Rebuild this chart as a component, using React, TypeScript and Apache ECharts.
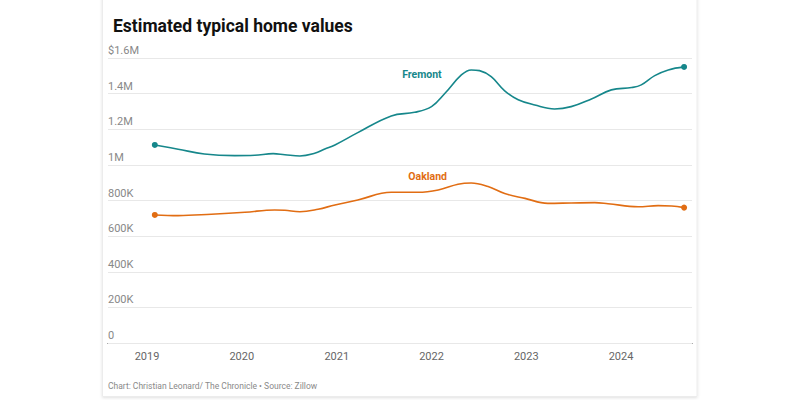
import React, { useEffect, useRef } from "react";
import * as echarts from "echarts";

const TITLE = "Estimated typical home values";
const SOURCE = "Chart: Christian Leonard/ The Chronicle • Source: Zillow";

const fremontDates = [
  "2019-01-31", "2019-05-01", "2019-08-10", "2019-12-05", "2020-02-20", "2020-05-01",
  "2020-06-15", "2020-08-12", "2020-10-08", "2020-11-16", "2020-12-25", "2021-03-23",
  "2021-07-30", "2021-10-28", "2022-01-01", "2022-02-22", "2022-04-26", "2022-06-03",
  "2022-07-05", "2022-08-19", "2022-10-10", "2022-12-01", "2023-02-03", "2023-04-20",
  "2023-06-23", "2023-09-09", "2023-11-25", "2024-02-11", "2024-03-19", "2024-05-10",
  "2024-07-01", "2024-08-31",
];
const fremontValues = [
  1112000, 1088000, 1061000, 1052000, 1054000, 1063000,
  1057000, 1050000, 1065000, 1089000, 1112000, 1181000,
  1275000, 1295000, 1327000, 1402000, 1505000, 1533000,
  1529000, 1495000, 1416000, 1366000, 1336000, 1314000,
  1327000, 1370000, 1421000, 1434000, 1449000, 1501000,
  1533000, 1550000,
];

const oaklandDates = [
  "2019-01-31", "2019-05-01", "2019-09-06", "2020-01-13", "2020-05-07", "2020-06-15",
  "2020-08-12", "2020-10-21", "2020-12-25", "2021-03-23", "2021-07-30", "2021-11-10",
  "2022-01-27", "2022-04-13", "2022-06-03", "2022-08-07", "2022-10-10", "2022-12-27",
  "2023-03-25", "2023-06-23", "2023-09-22", "2023-11-12", "2024-03-07", "2024-05-23",
  "2024-07-14", "2024-08-31",
];
const oaklandValues = [
  719000, 715000, 723000, 734000, 747000, 745000,
  737000, 751000, 775000, 803000, 846000, 846000,
  859000, 891000, 898000, 878000, 839000, 812000,
  784000, 786000, 788000, 782000, 765000, 771000,
  769000, 760000,
];

const seriesNames = ["Fremont", "Oakland"];
const seriesColors = ["#16878b", "#e16d13"];
// label anchor points (date, value) for the in-chart series names
const nameLabelDates = ["2021-11-25", "2021-12-17"];
const nameLabelValues = [1505000, 934000];

const yTickValues = [0, 200000, 400000, 600000, 800000, 1000000, 1200000, 1400000, 1600000];
const yTickLabels = ["0", "200K", "400K", "600K", "800K", "1M", "1.2M", "1.4M", "$1.6M"];

const toTs = (s: string) => {
  const [y, m, d] = s.split("-").map(Number);
  return Date.UTC(y, m - 1, d);
};

export default function App() {
  const ref = useRef<HTMLDivElement>(null);

  useEffect(() => {
    if (!ref.current) return;
    const chart = echarts.init(ref.current, undefined, { renderer: "svg" });

    const gridLeft = 108;
    const gridRight = 692;
    const x2019 = 147;
    const x2024 = 621;
    const t2019 = Date.UTC(2019, 0, 1);
    const t2024 = Date.UTC(2024, 0, 1);
    const msPerPx = (t2024 - t2019) / (x2024 - x2019);
    const xMin = t2019 - (x2019 - gridLeft) * msPerPx;
    const xMax = t2019 + (gridRight - x2019) * msPerPx;

    const makeData = (dates: string[], vals: number[]) =>
      dates.map((d, i) => [toTs(d), vals[i]]);

    const allData = [
      makeData(fremontDates, fremontValues),
      makeData(oaklandDates, oaklandValues),
    ];

    const series = allData.map((data, si) => ({
      name: seriesNames[si],
      type: "line",
      data,
      smooth: 0.4,
      showSymbol: true,
      showAllSymbol: true,
      symbol: "circle",
      symbolSize: (_v: any, p: any) =>
        p.dataIndex === 0 || p.dataIndex === data.length - 1 ? 6 : 0,
      lineStyle: { color: seriesColors[si], width: 1.6 },
      itemStyle: { color: seriesColors[si] },
      emphasis: { disabled: true },
      markPoint: {
        symbol: "circle",
        symbolSize: 0,
        silent: true,
        data: [
          {
            coord: [toTs(nameLabelDates[si]), nameLabelValues[si]],
            label: {
              show: true,
              formatter: seriesNames[si],
              color: seriesColors[si],
              fontFamily: "Roboto",
              fontWeight: "bold",
              fontSize: 10.5,
              position: "inside",
            },
          },
        ],
      },
    }));

    chart.setOption({
      animation: false,
      useUTC: true,
      backgroundColor: "#ffffff",
      title: {
        text: TITLE,
        left: 108,
        top: 12,
        textStyle: {
          fontFamily: "Roboto",
          fontWeight: "bold",
          fontSize: 17.5,
          color: "#111111",
        },
      },
      graphic: [
        {
          type: "rect",
          z: -10,
          silent: true,
          shape: { x: 102.5, y: -4, width: 594.5, height: 400.5 },
          style: {
            fill: "#ffffff",
            stroke: "#ececec",
            lineWidth: 1,
            shadowBlur: 3,
            shadowOffsetY: 1,
            shadowColor: "rgba(0,0,0,0.12)",
          },
        },
        {
          type: "text",
          left: 108,
          top: 381,
          silent: true,
          style: {
            text: SOURCE,
            fontFamily: "Roboto",
            fontSize: 8.5,
            fill: "#8a8a8a",
          },
        },
      ],
      grid: { left: gridLeft, right: 800 - gridRight, top: 58, bottom: 57 },
      xAxis: {
        type: "time",
        min: xMin,
        max: xMax,
        minInterval: 365 * 24 * 3600 * 1000,
        maxInterval: 366 * 24 * 3600 * 1000,
        axisLine: { show: true, onZero: false, lineStyle: { color: "#444444", width: 1.2 } },
        axisTick: { show: false },
        splitLine: { show: false },
        axisLabel: {
          formatter: "{yyyy}",
          color: "#666666",
          fontFamily: "Roboto",
          fontSize: 11,
          margin: 8,
          showMinLabel: false,
          showMaxLabel: false,
        },
      },
      yAxis: {
        type: "value",
        min: 0,
        max: 1600000,
        interval: 200000,
        axisLine: { show: false },
        axisTick: { show: false },
        splitLine: { show: true, lineStyle: { color: "#e8e8e8", width: 1 } },
        axisLabel: {
          inside: true,
          margin: 0,
          verticalAlign: "bottom",
          padding: [0, 0, 2, 0],
          color: "#888888",
          fontFamily: "Roboto",
          fontSize: 11,
          formatter: (v: number) => {
            const i = yTickValues.indexOf(v);
            return i >= 0 ? yTickLabels[i] : "";
          },
        },
        z: 1,
      },
      series,
    });

    return () => chart.dispose();
  }, []);

  return (
    <div
      ref={ref}
      style={{ position: "absolute", left: 0, top: 0, width: 800, height: 400 }}
    />
  );
}
